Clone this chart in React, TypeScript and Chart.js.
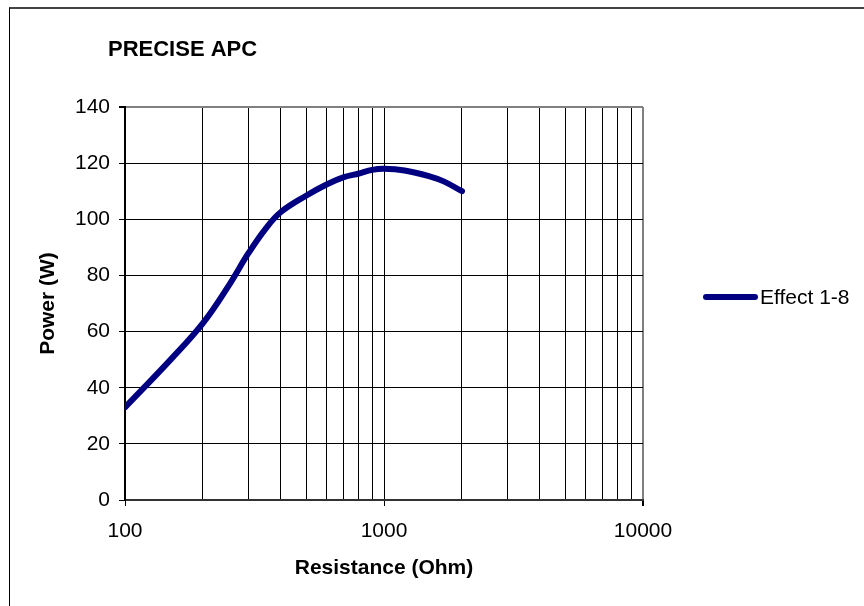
import React, { useEffect, useRef } from "react";
import { Chart, registerables } from "chart.js";

Chart.register(...registerables);

// ---- data ----
const resistance = [100, 150, 200, 250, 300, 350, 400, 500, 600, 700, 800, 900, 1000, 1200, 1500, 1700, 2000];
const power = [33, 50, 63, 76, 88, 96.8, 102.6, 108.4, 112.4, 115, 116.3, 117.6, 118, 117.4, 115.3, 113.5, 110];
const seriesLabel = "Effect 1-8";
const chartTitle = "PRECISE APC";
const xTitle = "Resistance (Ohm)";
const yTitle = "Power (W)";
const xGridValues = [100, 200, 300, 400, 500, 600, 700, 800, 900, 1000, 2000, 3000, 4000, 5000, 6000, 7000, 8000, 9000, 10000];
const xLabelValues = [100, 1000, 10000];
const yTickValues = [0, 20, 40, 60, 80, 100, 120, 140];

const FONT = "'Liberation Sans', Arial, sans-serif";
const NAVY = "#000080";

export default function App() {
  const ref = useRef<HTMLCanvasElement | null>(null);

  useEffect(() => {
    const canvas = ref.current;
    if (!canvas) return;

    const overlay = {
      id: "overlay",
      afterDraw(chart: any) {
        const ctx = chart.ctx;
        ctx.save();
        // title
        ctx.fillStyle = "#000";
        ctx.font = `bold 22px ${FONT}`;
        ctx.textAlign = "left";
        ctx.textBaseline = "middle";
        ctx.fillText(chartTitle, 108, 50);
        // legend
        const ds = chart.data.datasets[0];
        ctx.strokeStyle = ds.borderColor;
        ctx.lineWidth = 6;
        ctx.lineCap = "round";
        ctx.beginPath();
        ctx.moveTo(706, 297);
        ctx.lineTo(755, 297);
        ctx.stroke();
        ctx.font = `21px ${FONT}`;
        ctx.fillStyle = "#000";
        ctx.fillText(ds.label, 760, 298);
        ctx.restore();
      },
    };

    const chart = new Chart(canvas, {
      type: "line",
      data: {
        datasets: [
          {
            label: seriesLabel,
            data: resistance.map((x, i) => ({ x, y: power[i] })),
            borderColor: NAVY,
            backgroundColor: NAVY,
            borderWidth: 6,
            pointRadius: 0,
            tension: 0.4,
            borderCapStyle: "round",
            borderJoinStyle: "round",
            fill: false,
          },
        ],
      },
      options: {
        responsive: false,
        animation: false,
        devicePixelRatio: 1,
        layout: { padding: { top: 107, right: 221, bottom: 0, left: 0 } },
        plugins: {
          legend: { display: false },
          title: { display: false },
          tooltip: { enabled: false },
        },
        scales: {
          x: {
            type: "logarithmic",
            min: 100,
            max: 10000,
            afterFit: (s: any) => {
              s.height = 106;
            },
            afterBuildTicks: (s: any) => {
              s.ticks = xGridValues.map((v) => ({ value: v, major: xLabelValues.includes(v) }));
            },
            grid: {
              color: (c: any) => (c.tick && c.tick.value === 10000 ? "#808080" : "#000"),
              lineWidth: (c: any) => (c.tick && c.tick.value === 10000 ? 2 : 1),
              tickColor: (c: any) => (c.tick && xLabelValues.includes(c.tick.value) ? "#000" : "rgba(0,0,0,0)"),
              tickLength: 6,
              drawTicks: true,
            },
            border: { display: true, color: "#333", width: 2 },
            ticks: {
              autoSkip: false,
              maxRotation: 0,
              padding: 13,
              color: "#000",
              font: { family: FONT, size: 21 },
              callback: (v: any) => (xLabelValues.includes(Number(v)) ? String(v) : ""),
            },
            title: {
              display: true,
              text: xTitle,
              color: "#000",
              font: { family: FONT, size: 21, weight: "bold", lineHeight: 1.2 },
              padding: { top: 0, bottom: 25 },
            },
          },
          y: {
            type: "linear",
            min: 0,
            max: 140,
            afterFit: (s: any) => {
              s.width = 125;
            },
            afterBuildTicks: (s: any) => {
              s.ticks = yTickValues.map((v) => ({ value: v }));
            },
            grid: {
              color: (c: any) => (c.tick && c.tick.value === 140 ? "#808080" : "#000"),
              lineWidth: (c: any) => (c.tick && c.tick.value === 140 ? 2 : 1),
              tickColor: "#000",
              tickLength: 6,
            },
            border: { display: true, color: "#000", width: 2 },
            ticks: {
              padding: 9,
              color: "#000",
              font: { family: FONT, size: 21 },
            },
            title: {
              display: true,
              text: yTitle,
              color: "#000",
              font: { family: FONT, size: 21, weight: "bold", lineHeight: 1.2 },
              padding: { top: 36, bottom: 0 },
            },
          },
        },
      },
      plugins: [overlay],
    } as any);

    return () => chart.destroy();
  }, []);

  return (
    <>
      <canvas
        ref={ref}
        width={864}
        height={606}
        style={{ position: "fixed", left: 0, top: 0, width: 864, height: 606, background: "#fff" }}
      />
      <div
        style={{
          position: "fixed",
          left: 9,
          top: 7,
          width: 2000,
          height: 2000,
          borderTop: "2px solid #444",
          borderLeft: "1px solid #000",
          pointerEvents: "none",
        }}
      />
    </>
  );
}
